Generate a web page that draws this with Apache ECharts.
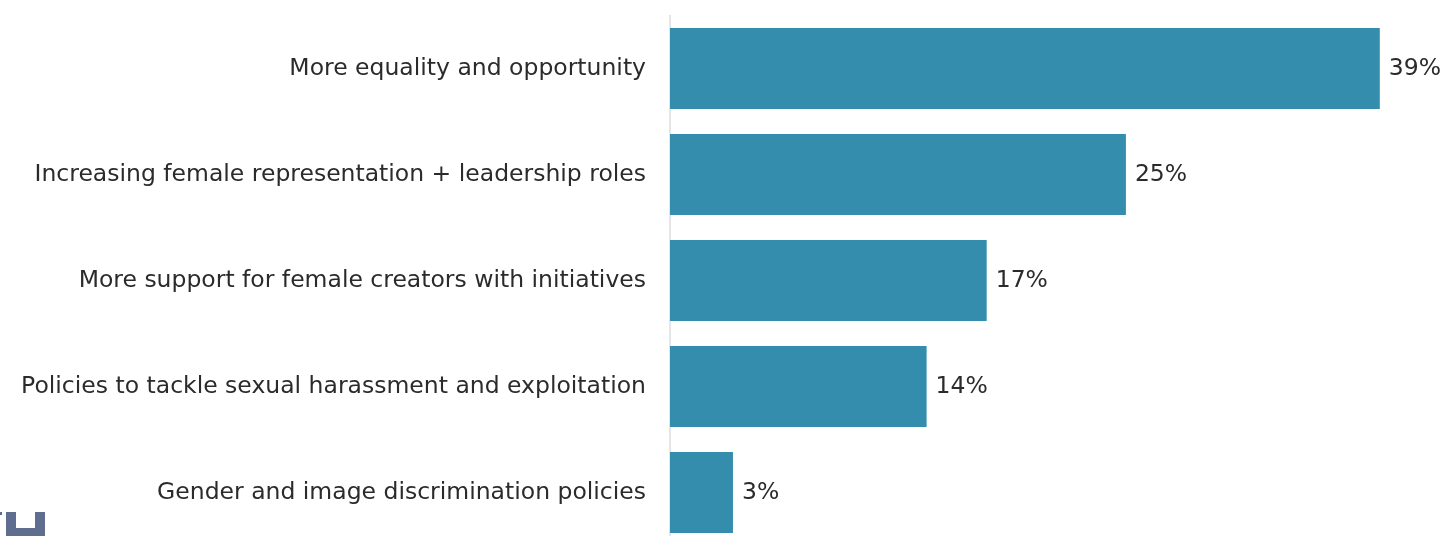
<!DOCTYPE html>
<html>
<head>
<meta charset="utf-8">
<script src="https://cdn.jsdelivr.net/npm/echarts@6/dist/echarts.min.js"></script>
<style>
html,body{margin:0;padding:0;background:#fff;}
#chart{width:1449px;height:536px;}
</style>
</head>
<body>
<div id="chart"></div>
<script>
var categories = [
  "More equality and opportunity",
  "Increasing female representation + leadership roles",
  "More support for female creators with initiatives",
  "Policies to tackle sexual harassment and exploitation",
  "Gender and image discrimination policies"
];
var values = [39, 25.05, 17.4, 14.1, 3.46];
var valueLabels = ["39%", "25%", "17%", "14%", "3%"];

var chart = echarts.init(document.getElementById('chart'));
chart.setOption({
  animation: false,
  backgroundColor: '#ffffff',
  grid: { left: 670, width: 728, top: 15.5, height: 530, containLabel: false, outerBoundsMode: 'none' },
  xAxis: {
    type: 'value', min: 0, max: 40, show: false
  },
  yAxis: {
    type: 'category',
    data: categories,
    inverse: true,
    axisLine: { show: true, lineStyle: { color: '#dcdcdc', width: 1.5 } },
    axisTick: { show: false },
    axisLabel: {
      margin: 24,
      color: '#2b2b2b',
      fontFamily: 'DejaVu Sans, sans-serif',
      fontSize: 23.5
    }
  },
  series: [{
    type: 'bar',
    data: values,
    barCategoryGap: '23.5%',
    itemStyle: { color: '#358dae' },
    label: {
      show: true,
      position: 'right',
      distance: 9,
      color: '#2b2b2b',
      fontFamily: 'DejaVu Sans, sans-serif',
      fontSize: 23.5,
      formatter: function (p) { return valueLabels[p.dataIndex]; }
    }
  }],
  graphic: [
    { type: 'rect', shape: { x: 6, y: 512, width: 10, height: 24 }, style: { fill: '#5f6e8e' } },
    { type: 'rect', shape: { x: 35, y: 512, width: 10, height: 24 }, style: { fill: '#5f6e8e' } },
    { type: 'rect', shape: { x: 6, y: 528, width: 39, height: 8 }, style: { fill: '#5f6e8e' } },
    { type: 'rect', shape: { x: 0, y: 512, width: 2, height: 3 }, style: { fill: '#5f6e8e' } }
  ]
});
</script>
</body>
</html>
